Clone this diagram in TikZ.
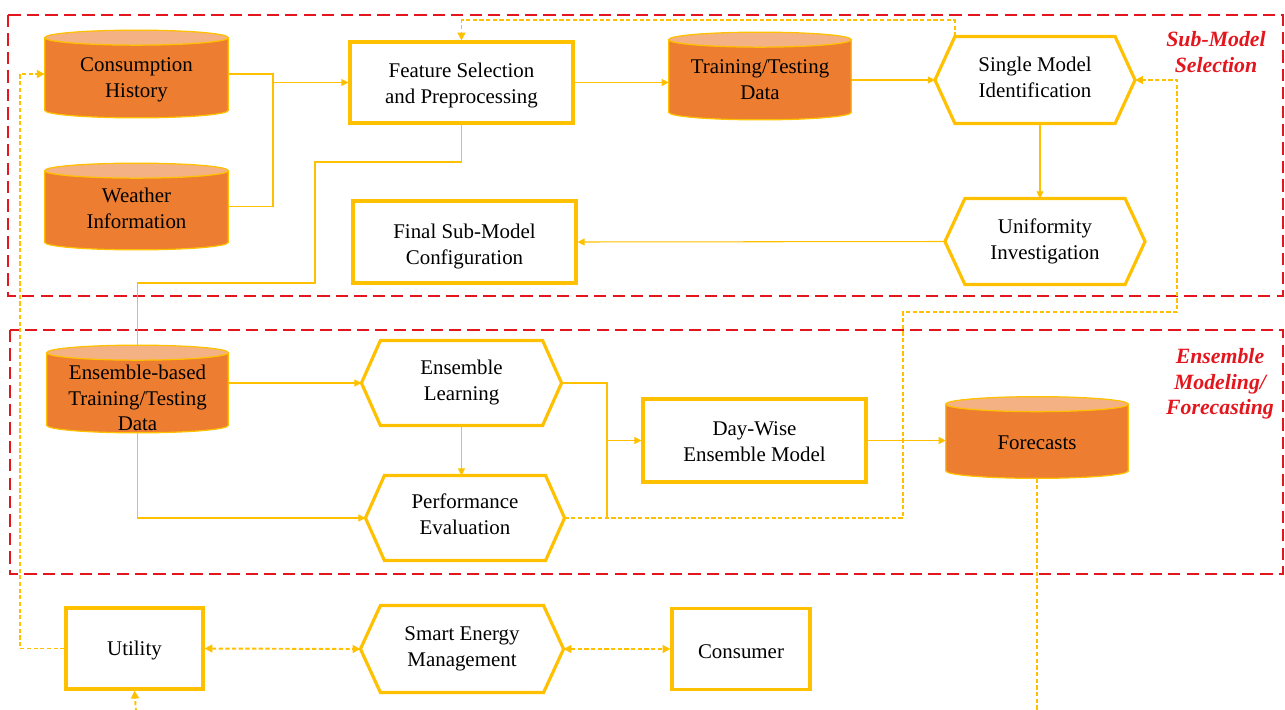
\documentclass[tikz,border=0pt]{standalone}
\usepackage{fontspec}
\setmainfont{Liberation Serif}
\usetikzlibrary{arrows.meta,backgrounds,calc}
\definecolor{gold}{HTML}{FFC000}
\definecolor{orbody}{HTML}{ED7D31}
\definecolor{ortop}{HTML}{F4B183}
\definecolor{redd}{HTML}{E3161E}
\newcommand\cylshape[1]{%
 \begin{pgfonlayer}{background}
 \path[fill=orbody, draw=gold, line width=0.7pt] let \p1=(#1.north west), \p2=(#1.south east), \n1={(\x2-\x1)/2} in
   (\p1) -- (\x1,\y2) arc[start angle=180, end angle=360, x radius=\n1, y radius=0.15cm] -- (\x2,\y1) -- cycle;
 \path[fill=ortop, draw=gold, line width=0.7pt] let \p1=(#1.north west), \p2=(#1.south east), \n1={(\x2-\x1)/2} in
   ($(\p1)!0.5!(\x2,\y1)$) ellipse [x radius=\n1, y radius=0.15cm];
 \end{pgfonlayer}}
\newcommand\hexshape[2]{%
 \draw[draw=gold, line width=1.8pt] ([xshift=#2]#1.north west) -- ([xshift=-#2]#1.north east) -- (#1.east) -- ([xshift=-#2]#1.south east) -- ([xshift=#2]#1.south west) -- (#1.west) -- cycle;}
\tikzset{
 txt/.style={font=\fontsize{11.9}{14.6}\selectfont, align=center, text=black, inner sep=0pt},
 tx/.style 2 args={label={[txt, yshift=#1]center:{#2}}},
 boxnode/.style={txt, draw=gold, line width=1.8pt, fill=white},
 hexnode/.style={txt, line width=1.8pt},
 cylnode/.style={txt},
 thinline/.style={draw=gold, line width=0.6pt},
 thinarrow/.style={thinline, -{Triangle[length=4pt,width=4pt]}},
 dashline/.style={draw=gold, line width=1.1pt, dash pattern=on 2.4pt off 1.4pt},
 dasharrow/.style={dashline, -{Triangle[length=4.5pt,width=4.5pt]}},
 dashboth/.style={dashline, {Triangle[length=4.5pt,width=4.5pt]}-{Triangle[length=4.5pt,width=4.5pt]}},
 redbox/.style={draw=redd, line width=1.3pt, dash pattern=on 7pt off 3.5pt},
 redlabel/.style={font=\fontsize{12.4}{14.5}\selectfont\bfseries\itshape, text=redd, align=center}
}
\begin{document}
\begin{tikzpicture}[x=0.02cm, y=-0.02cm]
\useasboundingbox (0,0) rectangle (1285,710);
% red dashed groups
\draw[redbox] (8,15) rectangle (1283,296);
\draw[redbox] (10,330) rectangle (1283,574);
\node[redlabel] (lab1) at (1216,52) {Sub-Model\\Selection};
\node[redlabel] (lab2) at (1220,384) {Ensemble\\Modeling/\\Forecasting};
% cylinders
\node[cylnode, minimum width=3.66cm, minimum height=1.44cm, tx={-0.12cm}{Consumption\\History}] (cons) at (136.5,74) {};
\node[cylnode, minimum width=3.66cm, minimum height=1.42cm, tx={-0.04cm}{Weather\\Information}] (weat) at (136.5,206.5) {};
\node[cylnode, minimum width=3.64cm, minimum height=1.44cm, tx={-0.07cm}{Training/Testing\\Data}] (ttd) at (760,76) {};
\node[cylnode, minimum width=3.62cm, minimum height=1.44cm, tx={-0.18cm}{Ensemble-based\\Training/Testing\\Data}] (ens) at (137.5,389) {};
\node[cylnode, minimum width=3.64cm, minimum height=1.32cm, tx={-0.1cm}{Forecasts}] (fore) at (1037,437.5) {};
\cylshape{cons}\cylshape{weat}\cylshape{ttd}\cylshape{ens}\cylshape{fore}
% boxes
\node[boxnode, minimum width=4.46cm, minimum height=1.62cm, tx={-0.06cm}{Feature Selection\\and Preprocessing}] (feat) at (461.5,82.5) {};
\node[boxnode, minimum width=4.46cm, minimum height=1.64cm, tx={-0.09cm}{Final Sub-Model\\Configuration}] (final) at (464.5,242) {};
\node[boxnode, minimum width=4.46cm, minimum height=1.66cm, tx={-0.03cm}{Day-Wise\\Ensemble Model}] (dw) at (754.5,440.5) {};
\node[boxnode, minimum width=2.74cm, minimum height=1.62cm, tx={-0.04cm}{Utility}] (util) at (134.5,648.5) {};
\node[boxnode, minimum width=2.76cm, minimum height=1.62cm, tx={-0.06cm}{Consumer}] (cons2) at (741,649) {};
% hexagons
\node[hexnode, minimum width=3.94cm, minimum height=1.68cm, tx={0.05cm}{Single Model\\Identification}] (single) at (1035,80) {};
\node[hexnode, minimum width=3.94cm, minimum height=1.66cm, tx={0cm}{Uniformity\\Investigation}] (unif) at (1045,241.5) {};
\node[hexnode, minimum width=3.94cm, minimum height=1.64cm, tx={0.01cm}{Ensemble\\Learning}] (learn) at (461.5,383) {};
\node[hexnode, minimum width=3.92cm, minimum height=1.64cm, tx={0.07cm}{Performance\\Evaluation}] (perf) at (465,518) {};
\node[hexnode, minimum width=4.00cm, minimum height=1.68cm, tx={0cm}{Smart Energy\\Management}] (sem) at (462,649) {};
\hexshape{single}{0.4cm}\hexshape{unif}{0.4cm}\hexshape{learn}{0.38cm}\hexshape{perf}{0.38cm}\hexshape{sem}{0.4cm}
% coordinates
\coordinate (j1) at (273,82.5);
\coordinate (f1) at (315,162);
\coordinate (f2) at (137.5,283);
\coordinate (h1) at (903,312);
\coordinate (h2) at (1177,80);
\coordinate (l1) at (607,518);
\coordinate (l2) at (607,440.5);
\coordinate (o1) at (20,74);
\coordinate (b1) at (1037,712);
\coordinate (b2) at (136,712);
% solid connectors
\draw[thinline] (cons.east) -| (j1);
\draw[thinline] (weat.east) -| (j1);
\draw[thinarrow] (j1) -- (feat.west);
\draw[thinarrow] (feat.east) -- (feat.east -| ttd.west);
\draw[thinarrow] (ttd.east |- single.west) -- (single.west);
\draw[thinarrow] ([xshift=0.1cm]single.south) -- ([xshift=0.1cm]single.south |- unif.north);
\draw[thinarrow] (unif.west) -- (final.east);
\draw[thinline] (feat.south) |- (f1) |- (f2) -- ([yshift=0.15cm]ens.north);
\draw[thinarrow] (ens.east |- learn.west) -- (learn.west);
\draw[thinarrow] ([yshift=-0.15cm]ens.south) |- (perf.west);
\draw[thinarrow] (learn.south) -- (learn.south |- perf.north);
\draw[thinline] (learn.east) -| (l1);
\draw[thinarrow] (l2) -- (dw.west);
\draw[thinarrow] (dw.east) -- (dw.east -| fore.west);
% dashed connectors
\draw[dasharrow] ([xshift=0.4cm]single.north west) -- ++(0,-16) -| (feat.north);
\draw[dasharrow] (perf.east) -| (h1) -| (h2) -- (single.east);
\draw[dashline] ([yshift=-0.15cm]fore.south) -- (b1);
\draw[dasharrow] (util.west) -| (o1) -- (cons.west);
\draw[dashboth] (util.east) -- (sem.west);
\draw[dashboth] (sem.east) -- (cons2.west);
\draw[dasharrow] (b2) -- (util.south);
\end{tikzpicture}
\end{document}
